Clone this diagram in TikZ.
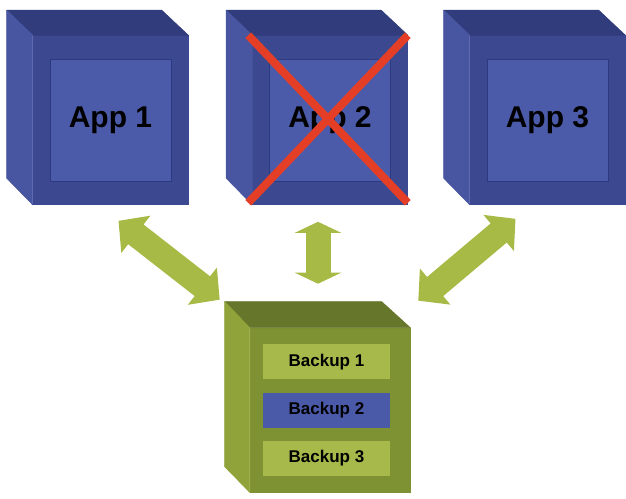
\documentclass[tikz,border=0pt]{standalone}
\usepackage{fontspec}
\setmainfont{Liberation Sans}
\usetikzlibrary{arrows.meta,positioning}

\definecolor{apptop}{HTML}{303C7B}
\definecolor{appside}{HTML}{4855A1}
\definecolor{appfront}{HTML}{3C4991}
\definecolor{appinner}{HTML}{4B5BA9}
\definecolor{appedge}{HTML}{2E3A80}
\definecolor{bktop}{HTML}{66762B}
\definecolor{bkside}{HTML}{90A33B}
\definecolor{bkfront}{HTML}{7E9234}
\definecolor{bkslot}{HTML}{A8B94B}
\definecolor{bkblue}{HTML}{4A5AA8}
\definecolor{linkgreen}{HTML}{A8BA46}
\definecolor{crossred}{HTML}{E53E27}

\begin{document}
\begin{tikzpicture}[x=1pt, y=-1pt,
    front/.style={fill=#1, draw=#1, line width=0.6pt, inner sep=0pt},
    side/.style={fill=#1, draw=#1, line width=0.6pt, line join=round},
    slot/.style={fill=#1, minimum width=127pt, minimum height=35pt,
        inner sep=0pt, font=\fontsize{17}{20}\selectfont\bfseries},
    link/.style={draw=linkgreen, line width=25pt, <->,
        >={Triangle[width=46pt,length=#1]}},
    link/.default=22pt,
    crossline/.style={draw=crossred, line width=8pt}]

    \useasboundingbox (0,0) rectangle (626,498);

    % the three application boxes
    \foreach \i/\x in {1/110.5, 2/330, 3/547.5}{
        \node[front=appfront, minimum width=155pt, minimum height=169pt] (app\i) at (\x,120) {};
        \draw[side=apptop] (app\i.north west) -- ++(-26,-25) -- ++(155,0) -- (app\i.north east) -- cycle;
        \draw[side=appside] (app\i.north west) -- ++(-26,-25) -- ++(0,168) -- (app\i.south west) -- cycle;
        \node[front=appinner, draw=appedge, line width=0.8pt, minimum width=121pt, minimum height=122pt,
            font=\fontsize{30}{36}\selectfont\bfseries] (in\i) at (app\i) {App \i};
    }

    % App 2 is gone
    \draw[crossline] ([xshift=-4pt]app2.north west) -- ([yshift=2pt]app2.south east);
    \draw[crossline] (app2.north east) -- ([shift={(-4,-2)}]app2.south west);

    % backup box
    \node[front=bkfront, minimum width=160pt, minimum height=164pt] (backup) at (330,410) {};
    \draw[side=bktop] (backup.north west) -- ++(-25,-26) -- ++(157,0) -- (backup.north east) -- cycle;
    \draw[side=bkside] (backup.north west) -- ++(-25,-26) -- ++(0,165) -- (backup.south west) -- cycle;

    \node[slot=bkblue] (bk2) at ([xshift=-3.5pt]backup) {Backup 2};
    \node[slot=bkslot, above=13pt of bk2] (bk1) {Backup 1};
    \node[slot=bkslot, below=13pt of bk2] (bk3) {Backup 3};

    % links
    \coordinate (l1) at ([shift={(8,16)}]app1.south);
    \coordinate (l2) at ([shift={(-30,-28)}]backup.north west);
    \coordinate (m1) at ([shift={(-12,17)}]app2.south);
    \coordinate (m2) at ([shift={(-12,-44)}]backup.north);
    \coordinate (r1) at ([shift={(-32,14)}]app3.south);
    \coordinate (r2) at ([shift={(8,-27)}]backup.north east);

    \draw[link] (l1) -- (l2);
    \draw[link=11pt] (m1) -- (m2);
    \draw[link] (r1) -- (r2);

\end{tikzpicture}
\end{document}
